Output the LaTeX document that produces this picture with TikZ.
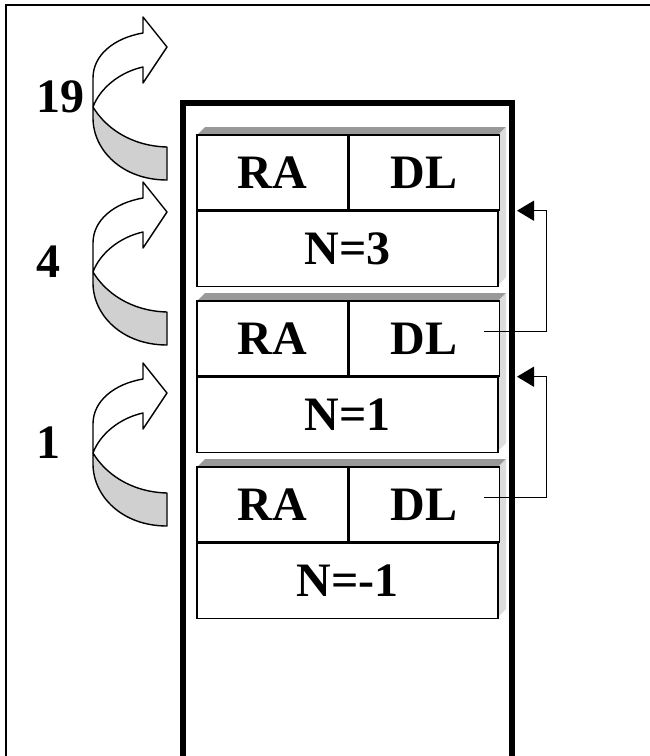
\documentclass[tikz,border=0pt]{standalone}
\usepackage{fontspec}
\setmainfont{Liberation Serif}
\usetikzlibrary{positioning,calc,arrows.meta}

\definecolor{bevelTop}{HTML}{999999}
\definecolor{bevelSide}{HTML}{DDDDDD}
\definecolor{backBand}{HTML}{D0D0D0}

\tikzset{
    cell/.style={draw, fill=white, line width=1.4pt, inner sep=0pt,
        minimum width=150.5pt, minimum height=75pt,
        font=\fontsize{48}{56}\selectfont\bfseries},
    nrow/.style={cell, minimum width=301pt},
    link/.style={line width=1.2pt, -{Triangle[length=17pt,width=20pt]}},
    band/.style={draw, line width=1.4pt, line join=round},
    lab/.style={anchor=base west, inner sep=0pt,
        font=\fontsize{48}{56}\selectfont\bfseries}
}

\begin{document}
\begin{tikzpicture}[x=1pt, y=-1pt]
    \useasboundingbox (0,0) rectangle (650,756);

    % Frame of the figure (top and left only)
    \draw[line width=2pt] (650,5) -- (6,5) -- (6,756);

    % Stack walls
    \draw[line width=6pt, line join=miter] (183,756) -- (183,103) -- (512,103) -- (512,756);

    % Activation records: shadow first, then the cells
    \foreach \i/\top/\val in {1/135/3, 2/301/1, 3/467/-1}{
        \fill[bevelTop] (197,\top) -- (205,\top-8) -- (506,\top-8) -- (498,\top) -- cycle;
        \fill[bevelSide] (498,\top) -- (506,\top-8) -- (506,\top+142) -- (498,\top+150) -- cycle;
        \node[cell] (ra\i) at (272.25,\top+37.5) {RA};
        \node[cell, right=0pt of ra\i] (dl\i) {DL};
        \node[nrow, anchor=north west] (n\i) at (ra\i.south west) {N=\val};
    }

    % Dynamic links, each one back to the frame above
    \coordinate (out2) at ($(dl2.east)+(-16,-7)$);
    \coordinate (out3) at ($(dl3.east)+(-16,-7)$);
    \coordinate (in1) at (ra1.south -| 517,0);
    \coordinate (in2) at (ra2.south -| 517,0);
    \draw[link] (out2) -- ++(62,0) |- (in1);
    \draw[link] (out3) -- ++(62,0) |- (in2);

    % Curved arrows with their counts
    \foreach \dy/\cnt in {0/19, 165/4, 346/1}{
        \begin{scope}[shift={(0,\dy)}]
            % back of the band
            \path[band, fill=backBand] (93,107) .. controls (105,127) and (130,146) .. (167,147)
                -- (167,180) .. controls (122,180) and (93,150) .. (93,118) -- cycle;
            % front of the band with its head
            \path[band, fill=white] (143,67) -- (143,83) -- (167,47) -- (143,17) -- (143,33)
                .. controls (114,38) and (93,55) .. (93,78) -- (93,107)
                .. controls (100,88) and (120,72) .. (143,67) -- cycle;
            \node[lab] (c\cnt) at (36,112) {\cnt};
        \end{scope}
    }
\end{tikzpicture}
\end{document}
